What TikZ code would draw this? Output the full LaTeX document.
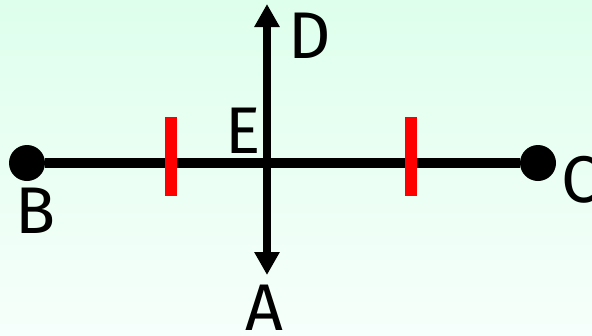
\documentclass[tikz,border=0pt]{standalone}
\usepackage{fontspec}
\setmainfont{Fira Sans}
\usetikzlibrary{arrows.meta}
\definecolor{bgTop}{RGB}{222,255,236}
\definecolor{bgBottom}{RGB}{246,255,251}

\begin{document}
\begin{tikzpicture}[
    x=1pt, y=-1pt,
    every node/.style={font=\fontsize{66}{70}\selectfont},
    dotNode/.style={circle, fill=black, inner sep=0pt, minimum size=36pt},
    segLine/.style={draw, line width=10pt},
    axLine/.style={draw, line width=8pt, {Triangle[width=24pt,length=23pt]}-{Triangle[width=24pt,length=23pt]}},
    tickMark/.style={draw=red, line width=12pt}
]
    \shade[top color=bgTop, bottom color=bgBottom] (0,0) rectangle (592,335);
    \useasboundingbox (0,0) rectangle (592,335);

    \node[dotNode] (b) at (27,163) {};
    \node[dotNode] (c) at (538,163) {};
    \coordinate (e) at (267,163);
    \coordinate (dTip) at (267,4);
    \coordinate (aTip) at (267,275);
    \coordinate (t1a) at (171,117);
    \coordinate (t1b) at (171,196);
    \coordinate (t2a) at (411,117);
    \coordinate (t2b) at (411,196);

    \draw[segLine] (b) -- (c);
    \draw[axLine] (aTip) -- (dTip);
    \draw[tickMark] (t1a) -- (t1b);
    \draw[tickMark] (t2a) -- (t2b);

    \node (labB) at (36,211) {B};
    \node[anchor=west] (labC) at (558,180) {C};
    \node (labD) at (310,36) {D};
    \node (labE) at (243,131) {E};
    \node (labA) at (264,308) {A};
\end{tikzpicture}
\end{document}
